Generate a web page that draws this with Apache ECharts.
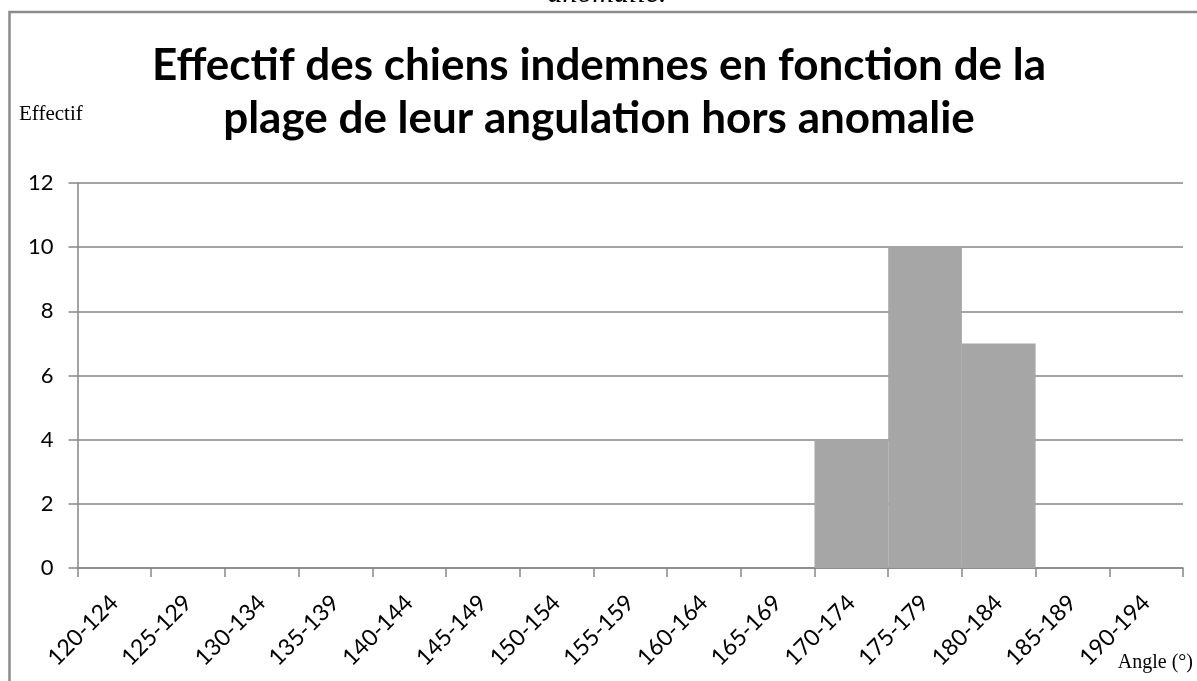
<!DOCTYPE html>
<html>
<head>
<meta charset="utf-8">
<script src="https://cdn.jsdelivr.net/npm/echarts@6/dist/echarts.min.js"></script>
<style>
  html, body { margin: 0; padding: 0; background: #fff; }
  #chart { width: 1197px; height: 681px; }
</style>
</head>
<body>
<div id="chart"></div>
<script>
// Angle ranges (degrees) and number of dogs in each range
const categories = [
  '120-124', '125-129', '130-134', '135-139', '140-144',
  '145-149', '150-154', '155-159', '160-164', '165-169',
  '170-174', '175-179', '180-184', '185-189', '190-194'
];
const effectifs = [0, 0, 0, 0, 0, 0, 0, 0, 0, 0, 4, 10, 7, 0, 0];
const yTicks = [0, 2, 4, 6, 8, 10, 12];

const titleLines = [
  'Effectif des chiens indemnes en fonction de la',
  'plage de leur angulation hors anomalie'
];
const captionTail = 'anomalie.';
const yAxisName = 'Effectif';
const xAxisName = 'Angle (°)';

const chart = echarts.init(document.getElementById('chart'));
const gridColor = '#868686';
const labelFont = 'Lato, "Open Sans", sans-serif';
const serifFont = '"Liberation Serif", "DejaVu Serif", serif';

chart.setOption({
  animation: false,
  backgroundColor: '#ffffff',
  title: {
    text: titleLines.join('\n'),
    left: 594,
    textAlign: 'center',
    top: 34,
    textStyle: {
      fontFamily: labelFont,
      fontWeight: 'bold',
      fontSize: 44,
      lineHeight: 53,
      color: '#000'
    }
  },
  grid: { left: 77.5, right: 14, top: 183, bottom: 113, containLabel: false },
  xAxis: {
    type: 'category',
    data: categories,
    boundaryGap: true,
    axisLine: { show: true, lineStyle: { color: gridColor, width: 1.5 } },
    axisTick: { show: true, length: 9, interval: 0, lineStyle: { color: gridColor, width: 1.5 } },
    axisLabel: {
      interval: 0,
      rotate: 45,
      margin: 31,
      fontFamily: labelFont,
      fontSize: 23,
      color: '#000'
    },
    splitLine: { show: false }
  },
  yAxis: {
    type: 'value',
    min: yTicks[0],
    max: yTicks[yTicks.length - 1],
    interval: yTicks[1] - yTicks[0],
    axisLine: { show: true, lineStyle: { color: gridColor, width: 1.5 } },
    axisTick: { show: true, length: 9, lineStyle: { color: gridColor, width: 1.5 } },
    axisLabel: {
      margin: 24,
      fontFamily: labelFont,
      fontSize: 22,
      color: '#000'
    },
    splitLine: { show: true, lineStyle: { color: gridColor, width: 1.5 } }
  },
  series: [{
    type: 'bar',
    data: effectifs,
    barCategoryGap: '0%',
    itemStyle: { color: '#a6a6a6' }
  }],
  graphic: [
    {
      type: 'rect',
      silent: true,
      shape: { x: 9.5, y: 12, width: 1400, height: 900 },
      style: { fill: 'none', stroke: '#8a8a8a', lineWidth: 2.5 }
    },
    {
      type: 'text',
      silent: true,
      x: 607,
      y: 9.5,
      style: {
        text: captionTail,
        font: 'italic 30px ' + serifFont,
        fill: '#000',
        align: 'center',
        verticalAlign: 'bottom'
      }
    },
    {
      type: 'text',
      silent: true,
      x: 19,
      y: 125,
      style: {
        text: yAxisName,
        font: '21px ' + serifFont,
        fill: '#000',
        align: 'left',
        verticalAlign: 'bottom'
      }
    },
    {
      type: 'text',
      silent: true,
      x: 1193,
      y: 673,
      style: {
        text: xAxisName,
        font: '20px ' + serifFont,
        fill: '#000',
        align: 'right',
        verticalAlign: 'bottom'
      }
    }
  ]
});
</script>
</body>
</html>
